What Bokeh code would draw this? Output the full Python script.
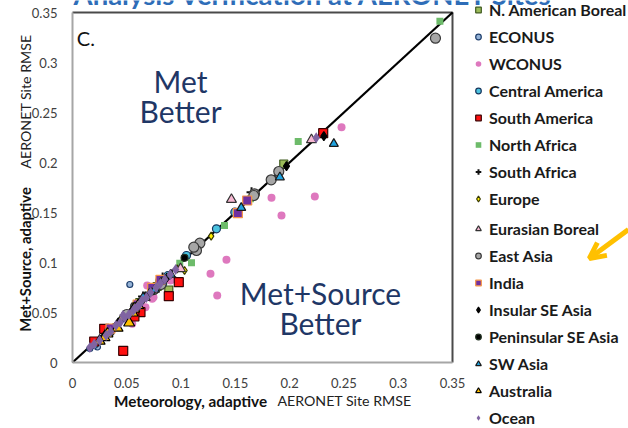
from bokeh.plotting import figure
from bokeh.models import Range1d, Legend, LegendItem, Label, FixedTicker, Arrow, OpenHead
from bokeh.embed import file_html
from bokeh.resources import INLINE

# ---------------- data (x = Meteorology adaptive RMSE, y = Met+Source adaptive RMSE)
nab_x = [0.0887, 0.1946, 0.062, 0.078]
nab_y = [0.0725, 0.1985, 0.060, 0.076]
econus_x = [0.0528, 0.023, 0.0935, 0.072, 0.084, 0.016, 0.045]
econus_y = [0.078, 0.0155, 0.083, 0.069, 0.079, 0.014, 0.043]
wconus_x = [0.2478, 0.2232, 0.1833, 0.1925, 0.1418, 0.1271, 0.1333, 0.0688, 0.0903, 0.0734,
            0.0565, 0.0519, 0.0718, 0.0746, 0.0672, 0.055, 0.062, 0.066]
wconus_y = [0.2353, 0.166, 0.1647, 0.147, 0.1027, 0.0887, 0.067, 0.077, 0.082, 0.0637,
            0.0503, 0.042, 0.0753, 0.0653, 0.0553, 0.0387, 0.053, 0.064]
camer_x = [0.1326, 0.1495, 0.105, 0.0805, 0.088, 0.020]
camer_y = [0.1337, 0.1503, 0.107, 0.082, 0.087, 0.018]
samer_x = [0.2309, 0.0979, 0.0887, 0.0467, 0.0626, 0.020, 0.057, 0.0292]
samer_y = [0.2293, 0.0803, 0.0663, 0.0117, 0.0503, 0.021, 0.046, 0.0337]
nafr_x = [0.3384, 0.2079, 0.164, 0.140, 0.0988, 0.1096, 0.060]
nafr_y = [0.3413, 0.221, 0.1637, 0.137, 0.0993, 0.0997, 0.059]
safr_x = [0.1649, 0.083, 0.065, 0.048]
safr_y = [0.1703, 0.085, 0.066, 0.047]
europe_x = [0.1277, 0.0964, 0.1032, 0.085, 0.055, 0.045, 0.0375]
europe_y = [0.1263, 0.0937, 0.092, 0.082, 0.053, 0.044, 0.035]
eurbor_x = [0.2201, 0.1464, 0.0995, 0.078, 0.067]
eurbor_y = [0.2227, 0.163, 0.0937, 0.077, 0.065]
easia_x = [0.3343, 0.190, 0.183, 0.1676, 0.167, 0.1173, 0.1142, 0.1117, 0.0815, 0.075, 0.058, 0.050, 0.034]
easia_y = [0.3243, 0.191, 0.1827, 0.1687, 0.167, 0.1193, 0.112, 0.1153, 0.078, 0.073, 0.056, 0.048, 0.031]
india_x = [0.1609, 0.1523, 0.081, 0.0734, 0.060, 0.035]
india_y = [0.162, 0.1493, 0.0827, 0.0747, 0.058, 0.034]
insse_x = [0.2315, 0.1971, 0.087, 0.065, 0.055, 0.042, 0.030, 0.061]
insse_y = [0.2263, 0.1963, 0.085, 0.063, 0.052, 0.040, 0.028, 0.057]
pense_x = [0.1032, 0.0835, 0.073, 0.068, 0.058]
pense_y = [0.1047, 0.082, 0.071, 0.067, 0.0565]
swasia_x = [0.2407, 0.191, 0.1554, 0.0905, 0.076, 0.065]
swasia_y = [0.2187, 0.1853, 0.1547, 0.088, 0.073, 0.065]
austr_x = [0.0568, 0.0553, 0.0522, 0.0322, 0.0295, 0.0415, 0.0605, 0.025]
austr_y = [0.0537, 0.0497, 0.0397, 0.0287, 0.025, 0.0345, 0.057, 0.0215]
ocean_x = [0.2245, 0.016, 0.020, 0.025, 0.031, 0.035, 0.040, 0.044, 0.048, 0.052, 0.056, 0.060,
           0.064, 0.068, 0.072, 0.077, 0.081, 0.085, 0.090, 0.095, 0.0465, 0.0575, 0.062]
ocean_y = [0.2247, 0.015, 0.0185, 0.022, 0.027, 0.031, 0.037, 0.040, 0.045, 0.048, 0.052, 0.056,
           0.062, 0.065, 0.070, 0.075, 0.079, 0.083, 0.088, 0.093, 0.047, 0.054, 0.058]

category_names = ["N. American Boreal", "ECONUS", "WCONUS", "Central America", "South America",
                  "North Africa", "South Africa", "Europe", "Eurasian Boreal", "East Asia", "India",
                  "Insular SE Asia", "Peninsular SE Asia", "SW Asia", "Australia", "Ocean"]
series_x = [nab_x, econus_x, wconus_x, camer_x, samer_x, nafr_x, safr_x, europe_x, eurbor_x,
            easia_x, india_x, insse_x, pense_x, swasia_x, austr_x, ocean_x]
series_y = [nab_y, econus_y, wconus_y, camer_y, samer_y, nafr_y, safr_y, europe_y, eurbor_y,
            easia_y, india_y, insse_y, pense_y, swasia_y, austr_y, ocean_y]

axis_range = [0, 0.35]
tick_values = [0, 0.05, 0.1, 0.15, 0.2, 0.25, 0.3, 0.35]
tick_labels = ["0", "0.05", "0.1", "0.15", "0.2", "0.25", "0.3", "0.35"]

# ---------------- styles (marker, size, fill, line)
styles = [
    ("square", 8, "#9BBB59", "#3F5A1E"),
    ("circle", 6, "#95B3D7", "#1F3F6D"),
    ("circle", 8, "#DE78BE", None),
    ("circle", 8, "#4BC3E0", "#17365D"),
    ("square", 9, "#FF1010", "#3A0000"),
    ("square", 7, "#6DBB6A", None),
    ("cross", 10, None, "#111111"),
    ("diamond", 8, "#FFF000", "#3A3A00"),
    ("triangle", 10, "#F6B8D2", "#333333"),
    ("circle", 10, "#A6A6A6", "#3A3A3A"),
    ("square", 9, "#7030A0", "#F79646"),
    ("diamond", 9, "#000000", "#000000"),
    ("circle", 7, "#000000", "#203020"),
    ("triangle", 9, "#1FA3E0", "#1A1A1A"),
    ("triangle", 11, "#FFC000", "#000000"),
    ("diamond", 11, "#8064A2", None),
]

# canvas geometry: plot box spans px 72..452 horizontally, 12..362 vertically
W, H = 628, 428
L, R, T, B = 72, 452, 12, 362
span = axis_range[1] - axis_range[0]
kx = (R - L) / span
ky = (B - T) / span
x_lo = axis_range[0] - L / kx
x_hi = axis_range[1] + (W - R) / kx
y_lo = axis_range[0] - (H - B) / ky
y_hi = axis_range[1] + T / ky

p = figure(width=W, height=H, output_backend="svg", toolbar_location=None,
           x_range=Range1d(x_lo, x_hi), y_range=Range1d(y_lo, y_hi),
           min_border_left=0, min_border_right=0, min_border_top=0, min_border_bottom=0)
p.background_fill_color = "white"
p.border_fill_color = "white"
p.outline_line_color = None
p.xgrid.visible = False
p.ygrid.visible = False

for ax in (p.xaxis, p.yaxis):
    ax.fixed_location = 0
    ax.bounds = tuple(axis_range)
    ax.ticker = FixedTicker(ticks=tick_values)
    ax.major_label_overrides = {v: s for v, s in zip(tick_values, tick_labels)}
    ax.major_tick_line_color = None
    ax.minor_tick_line_color = None
    ax.axis_line_color = "#A6A6A6"
    ax.axis_line_width = 2
    ax.major_label_text_font = "Lato"
    ax.major_label_text_font_size = "13px"
    ax.major_label_text_color = "#404040"
    ax.major_label_standoff = 9

# top and right edges of the plot box
p.line([axis_range[0], axis_range[1], axis_range[1]], [axis_range[1], axis_range[1], axis_range[0]],
       line_color="#4A4A4A", line_width=2)

# 1:1 line
p.line(axis_range, axis_range, line_color="black", line_width=2.2)

renderers = []
for sx, sy, (mk, sz, fc, lc) in zip(series_x, series_y, styles):
    kw = dict(marker=mk, size=sz)
    if fc is None:
        kw["fill_alpha"] = 0
    else:
        kw["fill_color"] = fc
    if lc is None:
        kw["line_alpha"] = 0
    else:
        kw["line_color"] = lc
        kw["line_width"] = 2 if mk == "cross" else 1.2
    r = p.scatter(sx, sy, **kw)
    renderers.append(r)

items = [LegendItem(label=n, renderers=[r]) for n, r in zip(category_names, renderers)]

def make_legend(its, loc):
    return Legend(items=its, location=loc, padding=0, margin=0, spacing=0,
                  glyph_width=14, glyph_height=27, label_height=27, label_standoff=4,
                  label_text_font="Lato", label_text_font_style="bold",
                  label_text_font_size="16px", label_text_color="#1A1A1A",
                  background_fill_alpha=0, border_line_color=None)

# partially visible slide title at the very top (cut off by the page edge, as in the source)
p.add_layout(Label(x=0.001, y=0.368, text="Analysis Verification at AERONET Sites",
                   text_baseline="alphabetic", text_font="Lato", text_font_style="bold",
                   text_font_size="27.5px", text_color="#2E6DB8"))

p.add_layout(make_legend(items[:8], (471, 216)), "center")
p.add_layout(make_legend(items[8:], (471, -3)), "center")

navy = "#1F3766"
for txt, x, y in [("Met", 0.0995, 0.282), ("Better", 0.0995, 0.252),
                  ("Met+Source", 0.2284, 0.070), ("Better", 0.2284, 0.040)]:
    p.add_layout(Label(x=x, y=y, text=txt, text_align="center", text_baseline="middle",
                       text_font="Lato", text_font_size="30px", text_color=navy))

p.add_layout(Label(x=0.004, y=0.325, text="C.", text_font="Lato", text_font_size="20px",
                   text_color="#111111", text_baseline="alphabetic"))

# axis titles (bold part + regular part)
p.add_layout(Label(x=0.1087, y=-0.038, text="Meteorology, adaptive", text_align="center",
                   text_baseline="middle", text_font="Lato", text_font_style="bold",
                   text_font_size="15.3px", text_color="#111111"))
p.add_layout(Label(x=0.2505, y=-0.038, text="AERONET Site RMSE", text_align="center",
                   text_baseline="middle", text_font="Lato", text_font_size="14.2px",
                   text_color="#222222"))
p.add_layout(Label(x=-0.0433, y=0.103, text="Met+Source, adaptive", angle=1.5708,
                   text_align="center", text_baseline="middle", text_font="Lato",
                   text_font_style="bold", text_font_size="14.8px", text_color="#111111"))
p.add_layout(Label(x=-0.0433, y=0.261, text="AERONET Site RMSE", angle=1.5708,
                   text_align="center", text_baseline="middle", text_font="Lato",
                   text_font_size="14.2px", text_color="#222222"))

# orange pointer arrow
p.add_layout(Arrow(end=OpenHead(size=16, line_color="#FFC000", line_width=5),
                   x_start=0.512, y_start=0.133, x_end=0.476, y_end=0.104,
                   line_color="#FFC000", line_width=5))

open("out.html", "w").write(file_html(p, INLINE))
